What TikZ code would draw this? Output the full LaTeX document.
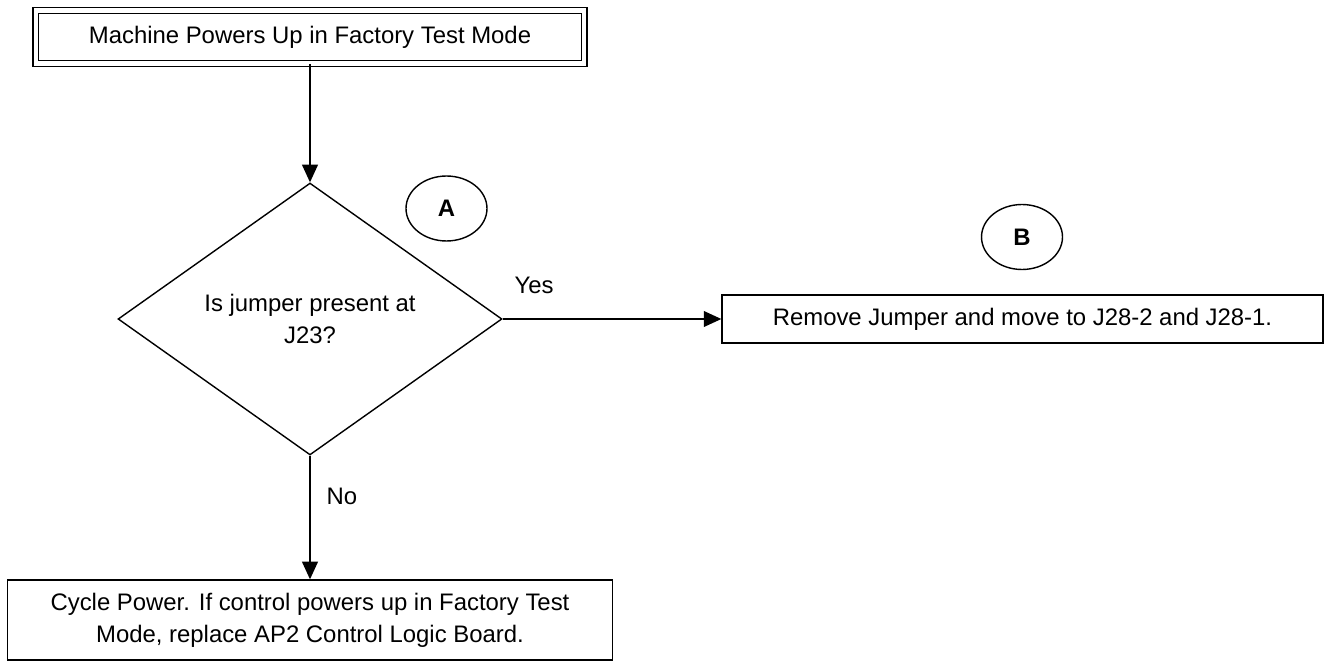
\documentclass[tikz,border=0pt]{standalone}
\usepackage{fontspec}
\setmainfont{Liberation Sans}
\usetikzlibrary{arrows.meta,shapes.geometric}

\begin{document}
\begin{tikzpicture}[x=.02cm,y=-.02cm,line width=.8pt,
  font=\fontsize{13.6}{18.3}\selectfont,
  flowbox/.style={draw,rectangle,align=center,inner sep=0pt},
  decision/.style={draw,diamond,align=center,inner sep=0pt,minimum width=7.68cm,minimum height=5.44cm},
  tagmark/.style={draw,ellipse,inner sep=0pt,minimum width=1.62cm,minimum height=1.3cm,font=\fontsize{13.6}{16}\selectfont\bfseries},
  flow/.style={-{Triangle[length=10pt,width=9pt]}}]
  \useasboundingbox (0,0) rectangle (1325,662);
  \node[flowbox,double,double distance=2.6pt,minimum width=10.97cm,minimum height=1.05cm] (powerup) at (310,37) {Machine Powers Up in Factory Test Mode};
  \node[decision] (jumper) at (310,319) {Is jumper present at\\J23?};
  \node[tagmark] (tagA) at (446.5,208.5) {A};
  \node[tagmark] (tagB) at (1022,237) {B};
  \node[flowbox,minimum width=12.02cm,minimum height=.96cm] (movejumper) at (1022.5,319) {Remove Jumper and move to J28-2 and J28-1.};
  \node[flowbox,minimum width=12.1cm,minimum height=1.6cm] (cyclepower) at (310,620) {Cycle Power. If control powers up in Factory Test\\Mode, replace AP2 Control Logic Board.};
  \node (yes) at (534,285) {Yes};
  \node (no) at (342,496) {No};
  \draw[flow] (powerup) -- (jumper);
  \draw[flow] (jumper.east) -- (movejumper.west);
  \draw[flow] (jumper) -- (cyclepower);
\end{tikzpicture}
\end{document}
